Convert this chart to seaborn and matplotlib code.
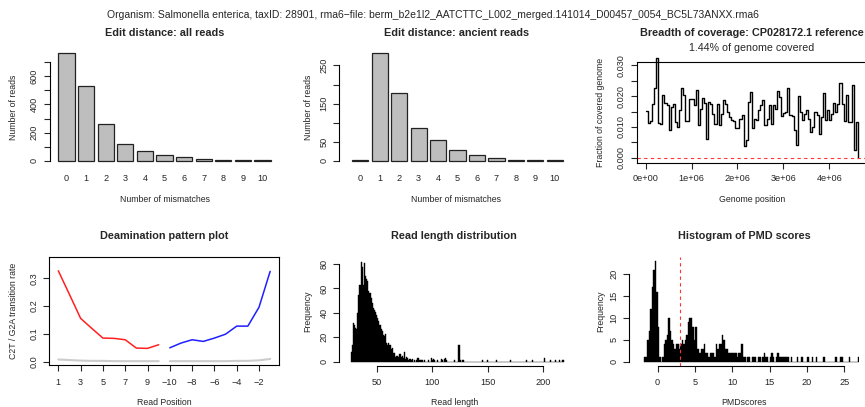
import numpy as np
import pandas as pd
import matplotlib
matplotlib.use("Agg")
import matplotlib.pyplot as plt
import seaborn as sns

# ---------------- data ----------------
mismatches = [0, 1, 2, 3, 4, 5, 6, 7, 8, 9, 10]
all_reads = [764, 532, 263, 119, 71, 38, 26, 12, 5, 5, 2]
ancient_reads = [2, 282, 177, 87, 54, 27, 14, 8, 2, 2, 1]

coverage_bin_size = 45400
coverage = [0.0153, 0.0113, 0.0118, 0.0175, 0.0227, 0.0324, 0.0113, 0.0109, 0.0205, 0.0178,
            0.0170, 0.0089, 0.0165, 0.0173, 0.0116, 0.0100, 0.0156, 0.0227, 0.0205, 0.0118,
            0.0118, 0.0190, 0.0190, 0.0170, 0.0220, 0.0106, 0.0159, 0.0195, 0.0177, 0.0062,
            0.0180, 0.0173, 0.0143, 0.0111, 0.0173, 0.0105, 0.0143, 0.0186, 0.0175, 0.0148,
            0.0132, 0.0122, 0.0118, 0.0095, 0.0095, 0.0127, 0.0138, 0.0038, 0.0057, 0.0180,
            0.0213, 0.0098, 0.0127, 0.0122, 0.0154, 0.0170, 0.0186, 0.0105, 0.0127, 0.0170,
            0.0111, 0.0170, 0.0159, 0.0218, 0.0197, 0.0134, 0.0145, 0.0148, 0.0227, 0.0138,
            0.0134, 0.0089, 0.0041, 0.0199, 0.0148, 0.0122, 0.0143, 0.0154, 0.0127, 0.0084,
            0.0100, 0.0148, 0.0138, 0.0078, 0.0132, 0.0210, 0.0122, 0.0154, 0.0122, 0.0141,
            0.0177, 0.0148, 0.0175, 0.0242, 0.0175, 0.0119, 0.0205, 0.0116, 0.0116, 0.0237,
            0.0025, 0.0116, 0.0]
genome_covered_pct = 1.44

read_pos_labels = ["1", "3", "5", "7", "9", "\u221210", "\u22128", "\u22126", "\u22124", "\u22122"]
c2t = [0.327, 0.242, 0.156, 0.120, 0.085, 0.084, 0.079, 0.049, 0.048, 0.061]
g2a = [0.050, 0.067, 0.079, 0.073, 0.085, 0.099, 0.128, 0.128, 0.196, 0.325]
other_5p = [0.008, 0.006, 0.004, 0.003, 0.003, 0.002, 0.002, 0.002, 0.002, 0.002]
other_3p = [0.002, 0.002, 0.002, 0.002, 0.002, 0.002, 0.003, 0.003, 0.005, 0.010]

read_length = list(range(27, 219))
read_length_count = [8, 14, 32, 30, 28, 27, 40, 55, 63, 82, 78, 63, 81, 70, 68, 66, 58, 56, 52, 48,
                     44, 42, 41, 38, 36, 33, 30, 27, 25, 22, 21, 23, 15, 14, 15, 14, 10, 11, 7, 7,
                     4, 5, 5, 4, 6, 4, 5, 3, 8, 2, 4, 3, 1, 2, 1, 2, 0, 1, 0, 1,
                     3, 3, 1, 1, 1, 0, 1, 0, 0, 0, 1, 0, 3, 1, 2, 1, 0, 0, 1, 0,
                     0, 2, 1, 0, 2, 3, 1, 0, 0, 0, 0, 0, 0, 1, 0, 0, 0, 14, 1, 0,
                     1, 1, 0, 0, 0, 0, 0, 0, 0, 0, 0, 0, 0, 0, 0, 0, 0, 0, 1, 0,
                     0, 0, 0, 1, 0, 0, 0, 0, 0, 0, 0, 1, 0, 0, 0, 0, 0, 0, 0, 0,
                     0, 0, 0, 1, 0, 0, 0, 0, 0, 0, 0, 0, 0, 0, 0, 0, 0, 0, 1, 0,
                     0, 0, 0, 1, 0, 0, 0, 0, 0, 0, 0, 0, 0, 0, 3, 0, 0, 0, 0, 1,
                     0, 0, 0, 0, 1, 0, 0, 1, 0, 0, 1, 1]

pmd_bin_left = [round(-1.8 + 0.2 * i, 1) for i in range(144)]
pmd_count = [1, 1, 5, 7, 12, 17, 21, 23, 16, 8, 1, 0, 1, 4, 5, 6, 10, 7, 5, 4,
             3, 4, 4, 3, 4, 5, 4, 5, 6, 9, 10, 10, 8, 5, 8, 3, 3, 2, 3, 3,
             4, 2, 2, 1, 2, 2, 2, 1, 4, 3, 4, 4, 6, 5, 3, 3, 2, 2, 2, 2,
             2, 2, 1, 2, 2, 4, 1, 1, 0, 1, 1, 0, 1, 1, 1, 0, 1, 1, 0, 1,
             2, 1, 1, 0, 1, 2, 1, 0, 1, 2, 1, 1, 1, 1, 1, 1, 1, 0, 1, 0,
             0, 0, 1, 0, 0, 1, 0, 0, 0, 1, 0, 0, 1, 0, 0, 1, 0, 0, 0, 0,
             1, 0, 0, 0, 0, 0, 0, 0, 1, 0, 0, 1, 1, 0, 0, 0, 0, 1, 0, 0,
             0, 0, 0, 1]
pmd_threshold = 3

suptitle = ("Organism: Salmonella enterica, taxID: 28901, rma6\u2212file: "
            "berm_b2e1l2_AATCTTC_L002_merged.141014_D00457_0054_BC5L73ANXX.rma6")

# ---------------- style ----------------
sns.set_theme(style="white")
plt.rcParams['font.family'] = ['Liberation Sans', 'DejaVu Sans']
plt.rcParams['axes.linewidth'] = 0.8
plt.rcParams['xtick.major.width'] = 0.8
plt.rcParams['ytick.major.width'] = 0.8
plt.rcParams['axes.edgecolor'] = 'black'

W, H = 865, 407
fig = plt.figure(figsize=(W / 100, H / 100), dpi=100)

LAB = 6.3
TICK = 6.6
TITLE = 7.8


def add_ax(l, t, r, b):
    ax = fig.add_axes([l / W, 1 - b / H, (r - l) / W, (b - t) / H])
    ax.box_px = (l, t, r, b)
    return ax


def fy(ax, y):
    l, t, r, b = ax.box_px
    return (b - y) / (b - t)


def fx(ax, x):
    l, t, r, b = ax.box_px
    return (x - l) / (r - l)


def labels(ax, title, xlabel, ylabel, ty, xly, ylx):
    ax.text(0.5, fy(ax, ty), title, transform=ax.transAxes, ha='center', va='center',
            fontsize=TITLE, fontweight='bold')
    ax.set_xlabel(xlabel, fontsize=LAB)
    ax.xaxis.set_label_coords(0.5, fy(ax, xly))
    ax.xaxis.label.set_va('center')
    ax.set_ylabel(ylabel, fontsize=LAB)
    ax.yaxis.set_label_coords(fx(ax, ylx), 0.5)
    ax.yaxis.label.set_va('center')
    ax.yaxis.label.set_ha('center')


def yticks_rot(ax, ticks, labs, pad=3.6):
    ax.set_yticks(ticks)
    ax.set_yticklabels(labs)
    ax.tick_params(axis='y', which='major', length=4.3, pad=pad, labelsize=TICK,
                   left=True, direction='out', labelrotation=90)
    for lb in ax.get_yticklabels():
        lb.set_va('center')


def only_left_bottom(ax):
    for s in ['top', 'right']:
        ax.spines[s].set_visible(False)


fig.text(W / 2 / W, 1 - 15 / H, suptitle, ha='center', va='center', fontsize=7.5)

# ---------- Panel 1: edit distance all reads ----------
ax1 = add_ax(49.5, 49, 279.5, 165)
sns.barplot(x=mismatches, y=all_reads, ax=ax1, color='#bebebe', edgecolor='#222222',
            linewidth=0.9, width=0.8333, saturation=1)
ax1.set_xlim(-0.867, 10.867)
ax1.set_ylim(-30.6, 794.6)
only_left_bottom(ax1)
ax1.spines['bottom'].set_visible(False)
ax1.spines['left'].set_bounds(0, 700)
yticks_rot(ax1, list(range(0, 701, 100)), ['0', '', '200', '', '400', '', '600', ''])
ax1.tick_params(axis='x', length=0, pad=6.5, labelsize=TICK)
labels(ax1, "Edit distance: all reads", "Number of mismatches", "Number of reads", 33.3, 199, 13.3)

# ---------- Panel 2: edit distance ancient reads ----------
ax2 = add_ax(339.3, 49, 573.0, 165)
sns.barplot(x=mismatches, y=ancient_reads, ax=ax2, color='#bebebe', edgecolor='#222222',
            linewidth=0.9, width=0.8333, saturation=1)
ax2.set_xlim(-1.085, 10.94)
ax2.set_ylim(-11.3, 293.3)
only_left_bottom(ax2)
ax2.spines['bottom'].set_visible(False)
ax2.spines['left'].set_bounds(0, 250)
yticks_rot(ax2, list(range(0, 251, 50)), ['0', '50', '', '150', '', '250'])
ax2.tick_params(axis='x', length=0, pad=6.5, labelsize=TICK)
labels(ax2, "Edit distance: ancient reads", "Number of mismatches", "Number of reads", 33.3, 199, 308.3)

# ---------- Panel 3: breadth of coverage ----------
ax3 = add_ax(636.7, 62, 866.7, 162.7)
cov_pos = [i * coverage_bin_size for i in range(len(coverage))]
sns.lineplot(x=cov_pos, y=coverage, ax=ax3, drawstyle='steps-post', color='black',
             linewidth=1.0, clip_on=False)
ax3.axhline(0, color='#ff3333', linestyle=(0, (3, 3)), linewidth=0.8)
ax3.set_xlim(-0.196e6, 4.815e6)
ax3.set_ylim(-0.00162, 0.03107)
yticks_rot(ax3, [0, 0.005, 0.01, 0.015, 0.02, 0.025, 0.03],
           ['0.000', '', '0.010', '', '0.020', '', '0.030'])
ax3.set_xticks([0, 1e6, 2e6, 3e6, 4e6])
ax3.set_xticklabels(['0e+00', '1e+06', '2e+06', '3e+06', '4e+06'])
ax3.tick_params(axis='x', length=4.3, pad=3.6, labelsize=TICK, bottom=True, direction='out')
labels(ax3, "Breadth of coverage: CP028172.1 reference", "Genome position",
       "Fraction of covered genome", 33.3, 199, 600.7)
ax3.text(0.5, fy(ax3, 48.3), f"{genome_covered_pct}% of genome covered", transform=ax3.transAxes,
         ha='center', va='center', fontsize=7.7)

# ---------- Panel 4: deamination ----------
ax4 = add_ax(49.3, 257, 279.3, 365.3)
pos5 = list(range(1, 11))
pos3 = list(range(11, 21))
sns.lineplot(x=pos5, y=other_5p, ax=ax4, color='#cccccc', linewidth=1.5)
sns.lineplot(x=pos3, y=other_3p, ax=ax4, color='#cccccc', linewidth=1.5)
sns.lineplot(x=pos5, y=c2t, ax=ax4, color='#ff2020', linewidth=1.1)
sns.lineplot(x=pos3, y=g2a, ax=ax4, color='#1f1fff', linewidth=1.1)
ax4.set_xlim(0.193, 20.82)
ax4.set_ylim(-0.0129, 0.3766)
yticks_rot(ax4, [0, 0.1, 0.2, 0.3], ['0.0', '0.1', '0.2', '0.3'])
ax4.set_xticks([1, 3, 5, 7, 9, 11, 13, 15, 17, 19])
ax4.set_xticklabels(read_pos_labels)
ax4.tick_params(axis='x', length=4.3, pad=4.5, labelsize=TICK, bottom=True, direction='out')
labels(ax4, "Deamination pattern plot", "Read Position", "C2T / G2A transition rate", 236, 402.3, 13.3)

# ---------- Panel 5: read length ----------
ax5 = add_ax(339.3, 257.6, 569.3, 365.7)
sns.histplot(x=read_length, weights=read_length_count, discrete=True, ax=ax5,
             color='black', edgecolor='black', linewidth=0.3, alpha=1)
ax5.set_xlim(16.4, 223.2)
ax5.set_ylim(-3.3, 85.3)
only_left_bottom(ax5)
ax5.spines['left'].set_bounds(0, 80)
ax5.spines['bottom'].set_bounds(50, 200)
yticks_rot(ax5, [0, 20, 40, 60, 80], ['0', '20', '40', '60', '80'])
ax5.set_xticks([50, 100, 150, 200])
ax5.tick_params(axis='x', length=4.3, pad=4.5, labelsize=TICK, bottom=True, direction='out')
labels(ax5, "Read length distribution", "Read length", "Frequency", 236, 402.3, 307.3)

# ---------- Panel 6: PMD scores ----------
ax6 = add_ax(629.3, 257, 859.3, 365.7)
pmd_center = [v + 0.1 for v in pmd_bin_left]
sns.histplot(x=pmd_center, weights=pmd_count, binwidth=0.2, binrange=(-1.8, 27.0), ax=ax6,
             color='black', edgecolor='black', linewidth=0.3, alpha=1)
ax6.axvline(pmd_threshold, color='#ff3333', linestyle=(0, (3, 3)), linewidth=0.8)
ax6.set_xlim(-3.8, 27.0)
ax6.set_ylim(-0.91, 23.9)
only_left_bottom(ax6)
ax6.spines['left'].set_bounds(0, 20)
ax6.spines['bottom'].set_bounds(0, 25)
yticks_rot(ax6, [0, 5, 10, 15, 20], ['0', '5', '10', '15', '20'])
ax6.set_xticks([0, 5, 10, 15, 20, 25])
ax6.tick_params(axis='x', length=4.3, pad=4.5, labelsize=TICK, bottom=True, direction='out')
labels(ax6, "Histogram of PMD scores", "PMDscores", "Frequency", 236, 402.3, 600.7)

fig.savefig("out.png", dpi=100)
